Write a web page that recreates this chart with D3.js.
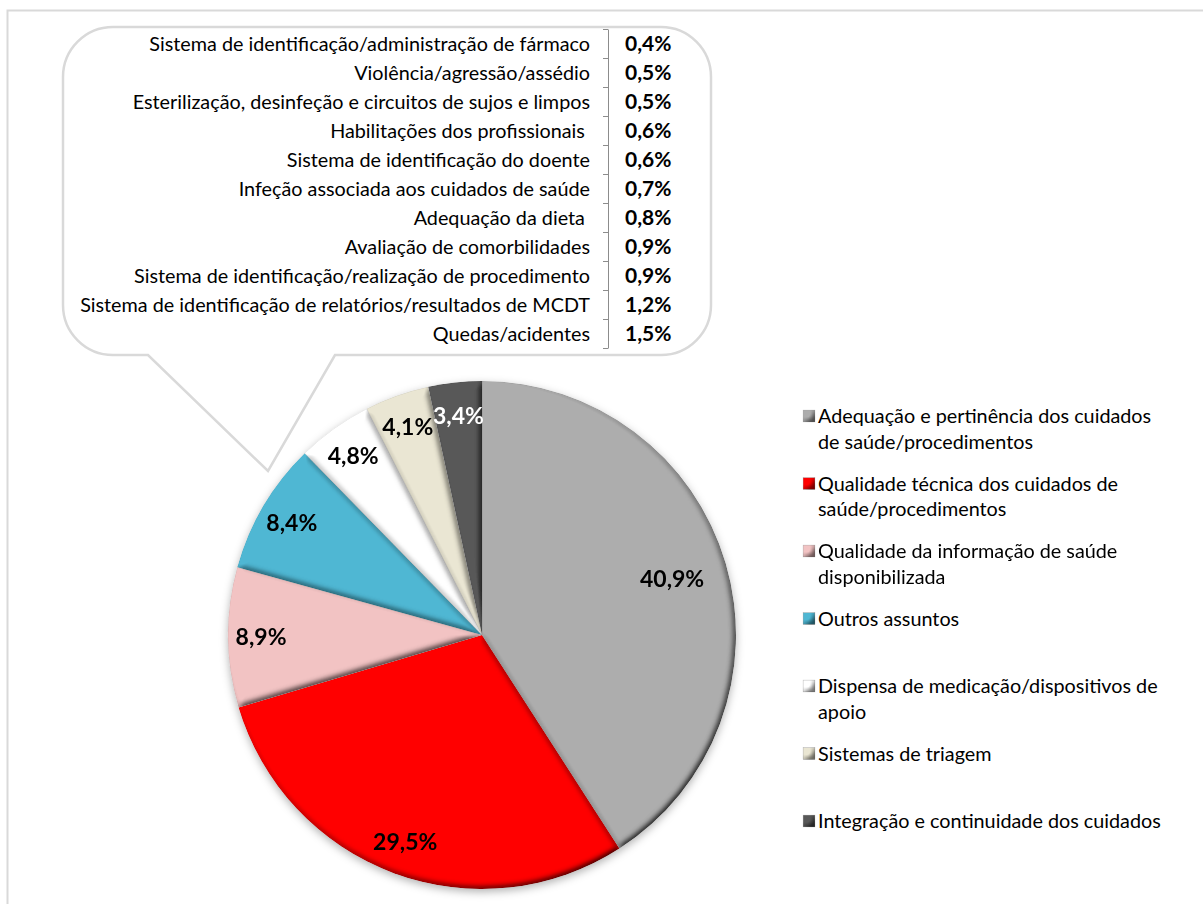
<!DOCTYPE html>
<html>
<head>
<meta charset="utf-8">
<script src="https://cdn.jsdelivr.net/npm/d3@7"></script>
<style>
  body { margin: 0; background: #fff; }
  text { font-family: Lato, "Open Sans", sans-serif; white-space: pre; }
</style>
</head>
<body>
<svg id="chart"></svg>
<script>
/* main pie: categories and shares (%) */
var categories = [
  "Adequação e pertinência dos cuidados\nde saúde/procedimentos",
  "Qualidade técnica dos cuidados de\nsaúde/procedimentos",
  "Qualidade da informação de saúde\ndisponibilizada",
  "Outros assuntos",
  "Dispensa de medicação/dispositivos de\napoio",
  "Sistemas de triagem",
  "Integração e continuidade dos cuidados"
];
var values = [40.9, 29.5, 8.9, 8.4, 4.8, 4.1, 3.4];
var colors = ["#ADADAD", "#FF0000", "#F2C3C3", "#4FB7D3", "#FFFFFF", "#EAE6D3", "#595959"];

/* breakdown of "Outros assuntos" shown in the callout */
var subCategories = [
  "Sistema de identificação/administração de fármaco",
  "Violência/agressão/assédio",
  "Esterilização, desinfeção e circuitos de sujos e limpos",
  "Habilitações dos profissionais ",
  "Sistema de identificação do doente",
  "Infeção associada aos cuidados de saúde",
  "Adequação da dieta ",
  "Avaliação de comorbilidades",
  "Sistema de identificação/realização de procedimento",
  "Sistema de identificação de relatórios/resultados de MCDT",
  "Quedas/acidentes"
];
var subValues = [0.4, 0.5, 0.5, 0.6, 0.6, 0.7, 0.8, 0.9, 0.9, 1.2, 1.5];

var width = 1203, height = 904;
var fmt = function(v) { return v.toFixed(1).replace(".", ",") + "%"; };

var svg = d3.select("#chart")
    .attr("width", width)
    .attr("height", height);

var defs = svg.append("defs");

// bevel look on the slices
var bevel = defs.append("filter").attr("id", "bevel")
    .attr("x", "-5%").attr("y", "-5%").attr("width", "110%").attr("height", "110%");
bevel.append("feGaussianBlur").attr("in", "SourceAlpha").attr("stdDeviation", 3).attr("result", "blur");
var diff = bevel.append("feDiffuseLighting").attr("in", "blur")
    .attr("surfaceScale", 5).attr("diffuseConstant", 1.22)
    .attr("lighting-color", "#fff").attr("result", "light");
diff.append("feDistantLight").attr("azimuth", 225).attr("elevation", 55);
bevel.append("feComposite").attr("in", "SourceGraphic").attr("in2", "light")
    .attr("operator", "arithmetic").attr("k1", 1).attr("k2", 0).attr("k3", 0).attr("k4", 0)
    .attr("result", "lit");
bevel.append("feComposite").attr("in", "lit").attr("in2", "SourceAlpha").attr("operator", "in");

var shadow = defs.append("filter").attr("id", "shadow")
    .attr("x", "-10%").attr("y", "-10%").attr("width", "120%").attr("height", "125%");
shadow.append("feDropShadow").attr("dx", 0).attr("dy", 3).attr("stdDeviation", 4)
    .attr("flood-color", "#000").attr("flood-opacity", 0.3);

// outer chart border
svg.append("rect")
    .attr("x", 7.5).attr("y", 10.5)
    .attr("width", 1220).attr("height", 920)
    .attr("fill", "none").attr("stroke", "#D9D9D9").attr("stroke-width", 2);

/* ---- callout ---- */
var cL = 63, cT = 27, cR = 711, cB = 355, rr = 50;
var tip = [268, 471];
var callout = d3.path();
callout.moveTo(cL + rr, cT);
callout.lineTo(cR - rr, cT);
callout.arcTo(cR, cT, cR, cT + rr, rr);
callout.lineTo(cR, cB - rr);
callout.arcTo(cR, cB, cR - rr, cB, rr);
callout.lineTo(335, cB);
callout.lineTo(tip[0], tip[1]);
callout.lineTo(148, cB);
callout.lineTo(cL + rr, cB);
callout.arcTo(cL, cB, cL, cB - rr, rr);
callout.lineTo(cL, cT + rr);
callout.arcTo(cL, cT, cL + rr, cT, rr);
callout.closePath();

svg.append("path")
    .attr("d", callout.toString())
    .attr("fill", "#fff")
    .attr("stroke", "#D9D9D9")
    .attr("stroke-width", 2.5);

var rowY = d3.scaleLinear().domain([0, subCategories.length]).range([29, 348]);
var axisX = 608;

svg.append("g")
    .attr("transform", "translate(" + axisX + ",0)")
    .call(d3.axisLeft(rowY).tickValues(d3.range(subCategories.length + 1))
        .tickSize(5).tickSizeOuter(0).tickFormat(""))
    .call(function(g) {
        g.selectAll("path, line").attr("stroke", "#8C8C8C");
    });

svg.append("g").selectAll("text")
    .data(subCategories)
    .enter()
    .append("text")
    .attr("x", axisX - 18)
    .attr("y", function(d, i) { return rowY(i + 0.5); })
    .attr("dy", "0.36em")
    .attr("text-anchor", "end")
    .attr("font-size", 19.8)
    .attr("fill", "#000")
    .text(function(d) { return d; });

svg.append("g").selectAll("text")
    .data(subValues)
    .enter()
    .append("text")
    .attr("x", axisX + 17)
    .attr("y", function(d, i) { return rowY(i + 0.5); })
    .attr("dy", "0.36em")
    .attr("font-size", 21)
    .attr("font-weight", "bold")
    .attr("fill", "#000")
    .text(function(d) { return fmt(d); });

/* ---- pie ---- */
var cx = 482, cy = 635, radius = 254;

var pie = d3.pie().sort(null).value(function(d) { return d; });
var arc = d3.arc().innerRadius(0).outerRadius(radius);
var arcs = pie(values);

var pieG = svg.append("g")
    .attr("transform", "translate(" + cx + "," + cy + ")")
    .attr("filter", "url(#shadow)");

pieG.selectAll("path")
    .data(arcs)
    .enter()
    .append("path")
    .attr("d", arc)
    .attr("fill", function(d, i) { return colors[i]; })
    .attr("stroke", "rgba(0,0,0,0.12)")
    .attr("stroke-width", 0.8)
    .attr("filter", "url(#bevel)");

svg.append("g")
    .attr("transform", "translate(" + cx + "," + cy + ")")
    .selectAll("text")
    .data(arcs)
    .enter()
    .append("text")
    .attr("transform", function(d) {
        var share = (d.endAngle - d.startAngle) / (2 * Math.PI);
        var k = share > 0.35 ? 0.78 : 0.87;
        var c = d3.arc().innerRadius(radius * k).outerRadius(radius * k).centroid(d);
        return "translate(" + c + ")";
    })
    .attr("text-anchor", "middle")
    .attr("dy", "0.36em")
    .attr("font-size", 23)
    .attr("font-weight", "bold")
    .attr("fill", function(d, i) { return i === values.length - 1 ? "#fff" : "#000"; })
    .text(function(d) { return fmt(d.data); });

/* ---- legend ---- */
var legY = d3.scaleLinear().domain([0, categories.length - 1]).range([416, 821]);
var legend = svg.append("g").selectAll("g")
    .data(categories)
    .enter()
    .append("g")
    .attr("transform", function(d, i) { return "translate(803," + legY(i) + ")"; });

legend.append("rect")
    .attr("x", 0).attr("y", -6)
    .attr("width", 12).attr("height", 12)
    .attr("fill", function(d, i) { return colors[i]; })
    .attr("stroke", "#A6A6A6")
    .attr("stroke-width", 0.6)
    .attr("filter", "url(#bevel)");

legend.append("text")
    .attr("x", 15)
    .attr("y", 0)
    .attr("font-size", 19.8)
    .attr("fill", "#000")
    .each(function(d) {
        var t = d3.select(this);
        d.split("\n").forEach(function(line, j) {
            t.append("tspan")
                .attr("x", 15)
                .attr("y", j * 25.5)
                .attr("dy", "0.36em")
                .text(line);
        });
    });
</script>
</body>
</html>
